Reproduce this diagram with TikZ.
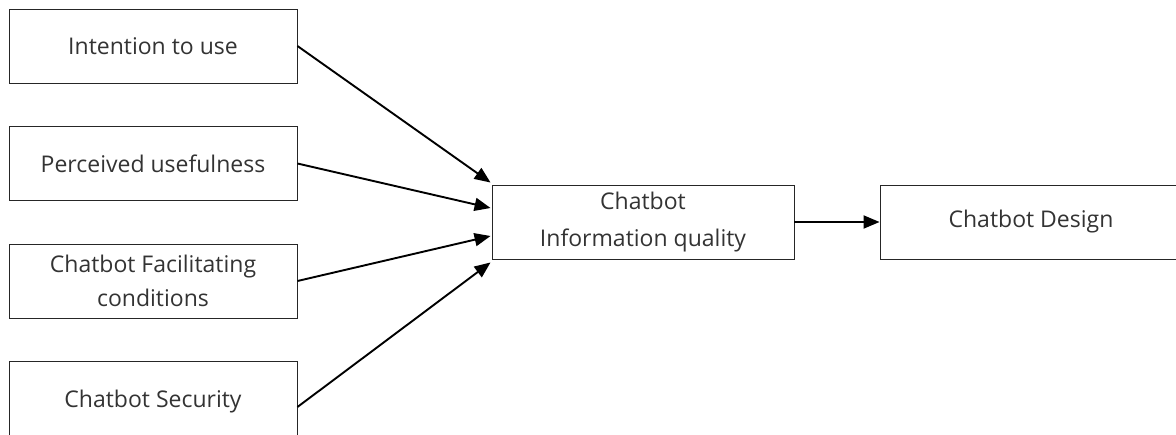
\documentclass[tikz,border=0pt]{standalone}
\usepackage{fontspec}
\setmainfont{Open Sans}
\usetikzlibrary{arrows.meta,calc}
\begin{document}
\begin{tikzpicture}[x=1pt,y=-1pt,
  box/.style={draw=black!85,line width=0.9pt,minimum width=288pt,minimum height=74pt,
    inner sep=0pt,align=center,text=black!80,font=\fontsize{23}{34}\selectfont},
  link/.style={line width=1.9pt,-{Triangle[length=16pt,width=13pt]}}]
\useasboundingbox (0,0) rectangle (1176,434);
\clip (0,0) rectangle (1176,434);
% factor boxes on the left
\node[box] (use)  at (153,46)  {Intention to use};
\node[box] (pu)   at (153,163.5) {Perceived usefulness};
\node[box] (fc)   at (153,281) {Chatbot Facilitating\\conditions};
\node[box,minimum height=82pt] (sec) at (153,402) {Chatbot Security};
% mediator and outcome
\node[box,minimum width=302pt,font=\fontsize{23}{37}\selectfont] (iq) at (643,222) {Chatbot\\Information quality};
\node[box,minimum width=302pt] (des) at (1031,222) {Chatbot Design};
% end points on the mediator's left side
\coordinate (e1) at ($(iq.north west)+(-1,-2)$);
\coordinate (e2) at ($(iq.west)+(-1,-14)$);
\coordinate (e3) at ($(iq.west)+(-1,14)$);
\coordinate (e4) at ($(iq.south west)+(-1,3)$);
\draw[link] (use.east) -- (e1);
\draw[link] (pu.east)  -- (e2);
\draw[link] (fc.east)  -- (e3);
\draw[link] ([yshift=-5pt]sec.east) -- (e4);
\draw[link] (iq.east) -- (des.west);
\end{tikzpicture}
\end{document}
